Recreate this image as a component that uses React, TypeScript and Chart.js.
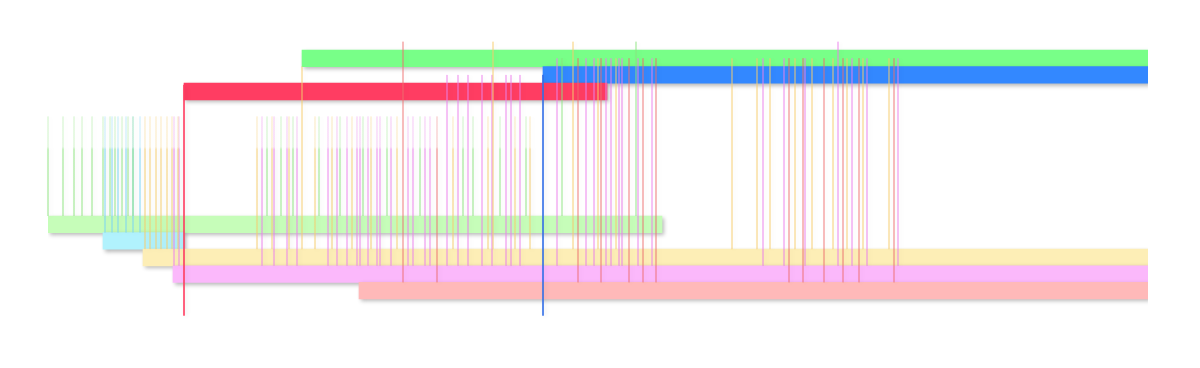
import { useEffect, useRef } from "react";
import { Chart, registerables } from "chart.js";

Chart.register(...registerables);

// Rows (top to bottom). First and last rows are empty margins.
const rowLabels = ["", "A", "B", "C", "", "", "", "", "", "", "", "D", "E", "F", "G", "H", ""];
const barStarts = [null, 254, 495, 136, null, null, null, null, null, null, null, 0, 55, 95, 125, 311, null];
const barEnds = [null, 1100, 1100, 559, null, null, null, null, null, null, null, 614, 136, 1100, 1100, 1100, null];
const barColors = [
  "#fff", "#78ff88", "#3388ff", "#ff3d62", "#fff", "#fff", "#fff", "#fff", "#fff", "#fff", "#fff",
  "#c6fdb9", "#b1f2fd", "#fdeeb6", "#fbb8fb", "#ffb9b9", "#fff",
];

// Link lines: x positions grouped by colour and by the row they start at.
const greenFromMid = [0, 15, 26, 34, 44, 55, 62, 67, 74, 80, 85, 219, 233, 245, 271, 292, 315, 339, 372, 415, 425, 452, 478];
const greenFromTop = [514];
const greenFromAbove = [588];
const blueFromMid = [57, 64, 70, 78, 85, 92];
const yellowFromMid = [97, 102, 108, 113, 119, 124, 130, 209, 224, 241, 267, 284, 304, 323, 349, 405, 440, 467, 482];
const yellowFromTop = [550, 568, 684, 709, 722, 747, 764, 785, 799, 815, 841];
const yellowFromAbove = [445, 525];
const yellowFromGreenBar = [254];
const pinkFromMid = [126, 131, 214, 226, 239, 249, 280, 289, 299, 309, 312, 320, 329, 332, 343, 360, 365, 377, 382];
const pinkFromRed = [399, 410, 420, 434, 444, 458, 463, 472];
const pinkFromTop = [509, 538, 546, 558, 563, 571, 574, 590, 604, 715, 736, 757, 804, 819, 850];
const pinkFromAbove = [790];
const redFromMid = [389];
const redFromTop = [530, 553, 581, 595, 608, 741, 755, 776, 795, 811, 846];
const redFromAbove = [355];
const redMarker = [136];
const blueMarker = [495];

const ROW_ABOVE = -1.0;
const ROW_TOP = 0.0;
const ROW_GREEN_EDGE = 0.5;
const ROW_RED = 1.0;
const ROW_MID = 3.5;
const ROW_MARKER_RED = 1.6;
const ROW_MARKER_END = 15.5;

const bottoms = { green: 9.5, blue: 10.5, yellow: 11.5, pink: 12.5, red: 13.5 };
const lineColors = {
  green: "rgba(140,228,125,0.38)",
  blue: "rgba(120,212,245,0.4)",
  yellow: "rgba(245,205,110,0.4)",
  pink: "rgba(236,130,236,0.4)",
  red: "rgba(236,110,110,0.38)",
};
const faintColors = {
  green: "rgba(140,228,125,0.15)",
  blue: "rgba(120,212,245,0.16)",
  yellow: "rgba(245,205,110,0.16)",
  pink: "rgba(236,130,236,0.16)",
  red: "rgba(236,110,110,0.16)",
};

function segs(xs: number[], top: number, bottom: number) {
  const pts: any[] = [];
  xs.forEach((x) => {
    pts.push({ x, y: top }, { x, y: bottom }, { x: null, y: null });
  });
  return pts;
}

function lineDs(xs: number[], top: number, bottom: number, color: any) {
  return {
    type: "line" as const,
    data: segs(xs, top, bottom),
    borderColor: color,
    borderWidth: 1,
    pointRadius: 0,
    pointHoverRadius: 0,
    fill: false,
    tension: 0,
    spanGaps: false,
    xAxisID: "x",
    yAxisID: "y2",
    indexAxis: "y" as const,
    order: 0,
    clip: false as any,
  };
}

function fadingColor(key: keyof typeof lineColors) {
  return (c: any) => {
    const chart = c.chart;
    const s = chart.scales && chart.scales.y2;
    if (!s || !chart.chartArea) return lineColors[key];
    const y0 = s.getPixelForValue(ROW_MID);
    const y1 = s.getPixelForValue(ROW_MID + 2);
    const g = chart.ctx.createLinearGradient(0, y0, 0, y1);
    g.addColorStop(0, faintColors[key]);
    g.addColorStop(0.92, faintColors[key]);
    g.addColorStop(1, lineColors[key]);
    return g;
  };
}

const shadowPlugin = {
  id: "shadows",
  beforeDatasetDraw(chart: any, args: any) {
    const ctx = chart.ctx;
    ctx.save();
    if (args.meta.type === "bar") {
      ctx.shadowColor = "rgba(0,0,0,0.28)";
      ctx.shadowBlur = 4;
      ctx.shadowOffsetX = 2;
      ctx.shadowOffsetY = 2;
    } else {
      ctx.shadowColor = "rgba(0,0,0,0.1)";
      ctx.shadowBlur = 4;
      ctx.shadowOffsetX = 2;
      ctx.shadowOffsetY = 1;
    }
  },
  afterDatasetDraw(chart: any) {
    chart.ctx.restore();
  },
};

export default function App() {
  const ref = useRef<HTMLCanvasElement | null>(null);

  useEffect(() => {
    if (!ref.current) return;
    const barData = rowLabels.map((_, i) =>
      barStarts[i] == null ? null : [barStarts[i] as number, barEnds[i] as number]
    );
    const datasets: any[] = [
      {
        type: "bar",
        data: barData,
        backgroundColor: barColors,
        borderWidth: 0,
        barPercentage: 1,
        categoryPercentage: 1,
        grouped: false,
        indexAxis: "y",
        xAxisID: "x",
        yAxisID: "y",
        order: 10,
      },
      lineDs(greenFromMid, ROW_MID, bottoms.green, fadingColor("green")),
      lineDs(greenFromTop, ROW_TOP, bottoms.green, lineColors.green),
      lineDs(greenFromAbove, ROW_ABOVE, bottoms.green, lineColors.green),
      lineDs(blueFromMid, ROW_MID, bottoms.blue, fadingColor("blue")),
      lineDs(yellowFromMid, ROW_MID, bottoms.yellow, fadingColor("yellow")),
      lineDs(yellowFromTop, ROW_TOP, bottoms.yellow, lineColors.yellow),
      lineDs(yellowFromAbove, ROW_ABOVE, bottoms.yellow, lineColors.yellow),
      lineDs(yellowFromGreenBar, ROW_GREEN_EDGE, bottoms.yellow, lineColors.yellow),
      lineDs(pinkFromMid, ROW_MID, bottoms.pink, fadingColor("pink")),
      lineDs(pinkFromRed, ROW_RED, bottoms.pink, lineColors.pink),
      lineDs(pinkFromTop, ROW_TOP, bottoms.pink, lineColors.pink),
      lineDs(pinkFromAbove, ROW_ABOVE, bottoms.pink, lineColors.pink),
      lineDs(redFromMid, ROW_MID, bottoms.red, fadingColor("red")),
      lineDs(redFromTop, ROW_TOP, bottoms.red, lineColors.red),
      lineDs(redFromAbove, ROW_ABOVE, bottoms.red, lineColors.red),
      lineDs(redMarker, ROW_MARKER_RED, ROW_MARKER_END, "rgba(255,61,98,0.85)"),
      lineDs(blueMarker, ROW_RED, ROW_MARKER_END, "rgba(51,110,230,0.85)"),
    ];

    const chart = new Chart(ref.current, {
      type: "bar",
      data: { labels: rowLabels, datasets },
      options: {
        responsive: false,
        animation: false,
        indexAxis: "y",
        events: [],
        layout: { padding: { left: 40, right: 44, top: 25.4, bottom: 44.4 } },
        plugins: { legend: { display: false }, tooltip: { enabled: false } },
        scales: {
          x: { type: "linear", min: 0, max: 1100, display: false, offset: false },
          y: { type: "category", display: false, offset: true },
          y2: { type: "linear", min: -1.5, max: 15.5, reverse: true, display: false, offset: false },
        },
      } as any,
      plugins: [shadowPlugin],
    });
    return () => chart.destroy();
  }, []);

  return (
    <div style={{ width: 1184, height: 352 }}>
      <canvas ref={ref} width={1184} height={352} />
    </div>
  );
}
